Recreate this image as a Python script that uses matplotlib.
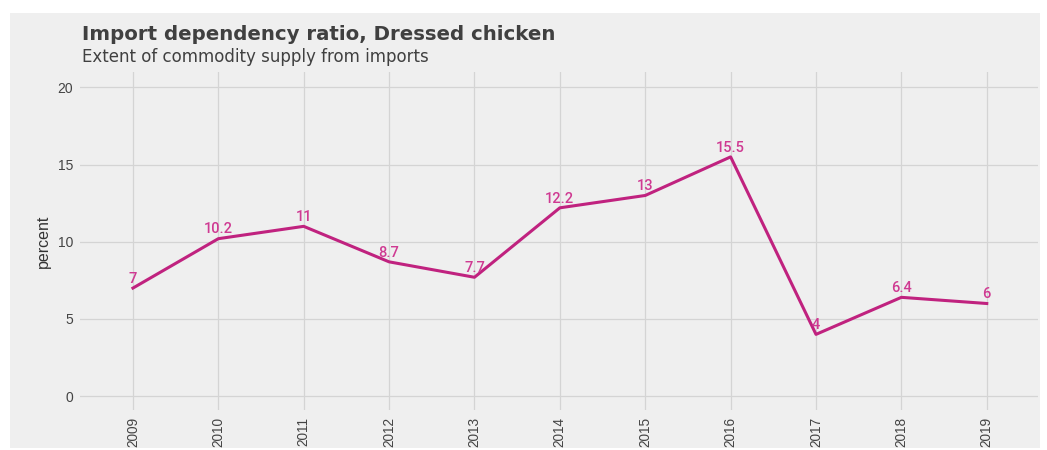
import matplotlib
matplotlib.use('Agg')
from matplotlib import pyplot as plt
from matplotlib.patches import Rectangle

years = ['2009', '2010', '2011', '2012', '2013', '2014', '2015', '2016', '2017', '2018', '2019']
ratio = [7, 10.2, 11, 8.7, 7.7, 12.2, 13, 15.5, 4, 6.4, 6]
labels = ['7', '10.2', '11', '8.7', '7.7', '12.2', '13', '15.5', '4', '6.4', '6']
yticks = [0, 5, 10, 15, 20]

plt.rcParams['font.family'] = ['Liberation Sans', 'DejaVu Sans']

fig = plt.figure(figsize=(10.47, 4.5), dpi=100)
fig.patch.set_facecolor('white')
fig.patches.append(Rectangle((10/1047, 2/450), 1030/1047, 435/450,
                             transform=fig.transFigure, facecolor='#efefef',
                             edgecolor='none', zorder=-5))

ax = fig.add_axes([80/1047, 1-410/450, 958/1047, 338/450])
ax.set_facecolor('#efefef')
x = list(range(len(years)))
ax.plot(x, ratio, color='#c0227f', linewidth=2.2, zorder=3)
for xi, yi, lab in zip(x, ratio, labels):
    ax.text(xi, yi + 0.15, lab, ha='center', va='bottom', fontsize=10.5,
            fontweight='medium', color='#cf3a92',
            family=['Roboto', 'DejaVu Sans'], zorder=4)

ax.set_xlim(-0.62, 10.6)
ax.set_ylim(-0.9, 21)
ax.set_xticks(x)
ax.set_xticklabels(years, rotation=90, fontsize=9.8, color='#444444',
                   family=['Liberation Sans Narrow', 'Liberation Sans'])
ax.set_yticks(yticks)
ax.set_yticklabels([str(v) for v in yticks], fontsize=10, color='#444444')
ax.tick_params(length=0, pad=5)
ax.tick_params(axis='x', pad=5)
ax.grid(color='#d4d4d4', linewidth=0.9)
ax.set_axisbelow(True)
for s in ax.spines.values():
    s.set_visible(False)
ax.set_ylabel('percent', fontsize=11.5, color='#333333',
              family=['Liberation Sans Narrow', 'Liberation Sans'], labelpad=5)

fig.text(82/1047, 1-35/450, 'Import dependency ratio, Dressed chicken',
         fontsize=14.2, fontweight='bold', color='#404040', va='center',
         family=['DejaVu Sans'])
fig.text(82/1047, 1-57/450, 'Extent of commodity supply from imports',
         fontsize=12, color='#404040', va='center', family=['DejaVu Sans'])

fig.savefig('out.png', dpi=100, facecolor=fig.get_facecolor())
